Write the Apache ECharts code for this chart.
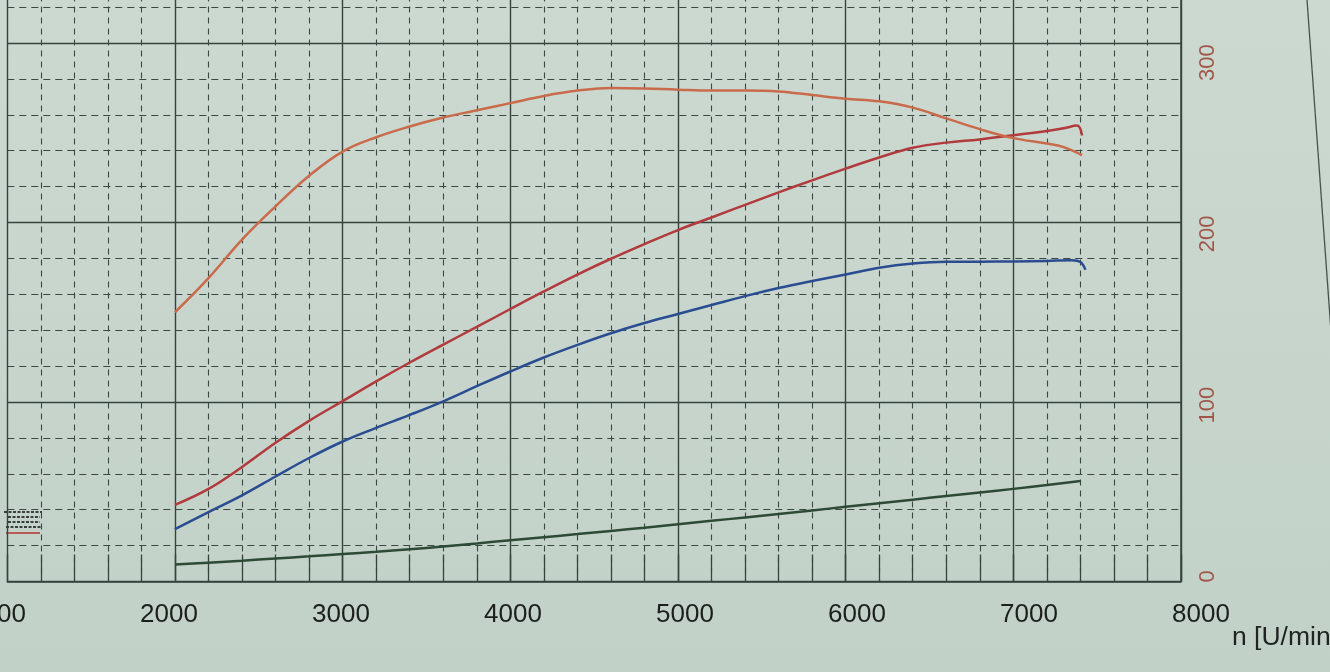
<!DOCTYPE html>
<html>
<head>
<meta charset="utf-8">
<script src="https://cdn.jsdelivr.net/npm/echarts@6/dist/echarts.min.js"></script>
<style>
html,body{margin:0;padding:0;background:#c7d5cd;overflow:hidden}
#c{width:1330px;height:672px}
</style>
</head>
<body>
<div id="c"></div>
<script>
// engine speed samples (rpm)
const rpm = [2000,2200,2400,2600,2800,3000,3200,3400,3600,3800,4000,4200,4400,4600,4800,5000,5200,5400,5600,5800,6000,6200,6400,6600,6800,7000,7200];

// orange curve (upper)
const orangeVals = [150,169,190.5,209,226,239.5,247.5,253.5,258.5,262.5,266.5,270.5,273.5,275,274.7,274,273.5,273.5,273,271,269,267.5,264,258,252,247,244];
const orangeTailRpm = [7300,7410];
const orangeTailVals = [242,237.5];

// red curve
const redVals = [42.7,51.6,63.8,77.3,89.5,100.5,111.5,122,132,141.8,151.8,161.6,171,179.8,188,195.8,202.8,209.8,216.8,223.5,230,236.2,241.6,244.5,246.3,248.6,251];
const redTailRpm = [7300,7380,7410];
const redTailVals = [252.5,254,248.5];

// blue curve
const blueVals = [29.2,38.7,48,58.5,68.8,78,85.6,92.8,100.4,108.8,117,124.8,131.8,138.3,144,149,154,159,163.5,167.4,171,174.8,177.2,178.2,178.2,178.3,178.6];
const blueTailRpm = [7350,7400,7430];
const blueTailVals = [179,178,173.7];

// green curve (lower)
const greenVals = [9.5,10.5,11.6,12.8,14,15.3,16.6,18,19.5,21.2,23,24.7,26.4,28.2,30,31.9,33.8,35.7,37.6,39.6,41.6,43.6,45.6,47.6,49.6,51.6,53.7];
const greenTailRpm = [7400];
const greenTailVals = [56];

// axis ranges
const xMin = 1000, xMax = 8000, xStep = 1000;
const yMin = 0, yMax = 400, yStep = 100;
const axisName = 'n [U/min]';

function pts(xs, ys) { return xs.map((x, i) => [x, ys[i]]); }

const gridSolid = '#36433d';
const gridDash = '#3b4842';
const font = 'Liberation Sans, Arial, sans-serif';

const chart = echarts.init(document.getElementById('c'), null, {renderer: 'canvas'});

function lineSeries(xs, ys, color) {
  return {
    type: 'line', xAxisIndex: 0, yAxisIndex: 0,
    data: pts(xs, ys),
    showSymbol: false, symbol: 'none', smooth: 0.4,
    lineStyle: {color: color, width: 2.5},
    z: 5, silent: true, animation: false
  };
}

chart.setOption({
  animation: false,
  backgroundColor: {
    type: 'linear', x: 0, y: 0, x2: 0, y2: 1,
    colorStops: [{offset: 0, color: '#ccd9d1'}, {offset: 1, color: '#c2d1c8'}]
  },
  title: {
    text: axisName, left: 1232, top: 624, padding: 0,
    textStyle: {fontFamily: font, fontSize: 26.5, fontWeight: 'normal', color: '#1f2321'}
  },
  grid: [
    {left: 7.3, right: 149, top: -136.5, bottom: 90.5, containLabel: false, outerBoundsMode: 'none'},
    {left: -3, right: 129, top: -108.7, bottom: 95.5, containLabel: false, outerBoundsMode: 'none'}
  ],
  xAxis: [
    {
      type: 'value', gridIndex: 0, min: xMin, max: xMax, interval: xStep,
      axisLine: {show: true, onZero: false, lineStyle: {color: gridSolid, width: 1.5}},
      axisTick: {show: true, inside: true, length: 27, lineStyle: {color: gridSolid, width: 1.4}},
      minorTick: {show: true, splitNumber: 5, length: 27, lineStyle: {color: gridSolid, width: 1.3}},
      axisLabel: {show: false},
      splitLine: {show: true, lineStyle: {color: gridSolid, width: 1.4}},
      minorSplitLine: {show: true, lineStyle: {color: gridDash, width: 1.1, type: [6, 5]}}
    },
    {
      type: 'value', gridIndex: 1, min: xMin, max: xMax, interval: xStep,
      axisLine: {show: false}, axisTick: {show: false}, splitLine: {show: false},
      axisLabel: {show: true, margin: 25, color: '#1c1f1d', fontSize: 26, fontFamily: font,
        formatter: function (v) { return String(v); }}
    }
  ],
  yAxis: [
    {
      type: 'value', gridIndex: 0, position: 'right', min: yMin, max: yMax, interval: yStep,
      axisLine: {show: true, lineStyle: {color: gridSolid, width: 1.5}},
      axisTick: {show: false},
      axisLabel: {show: false},
      splitLine: {show: true, lineStyle: {color: gridSolid, width: 1.4}},
      minorTick: {show: false, splitNumber: 5},
      minorSplitLine: {show: true, lineStyle: {color: gridDash, width: 1.1, type: [7, 5]}}
    },
    {
      type: 'value', gridIndex: 1, position: 'right', min: yMin, max: yMax, interval: yStep,
      axisLine: {show: false}, axisTick: {show: false}, splitLine: {show: false},
      axisLabel: {show: true, rotate: 90, margin: -4, color: '#a0574a', fontSize: 22, fontFamily: font,
        formatter: function (v) { return String(v); }}
    }
  ],
  graphic: [
    {type: 'line', shape: {x1: 1307, y1: 0, x2: 1332, y2: 345}, style: {stroke: '#46534c', lineWidth: 1.3}, silent: true},
    {type: 'line', shape: {x1: 4, y1: 512, x2: 42, y2: 512}, style: {stroke: '#3a3f3c', lineWidth: 2, lineDash: [3, 1.5]}, silent: true},
    {type: 'line', shape: {x1: 8, y1: 517, x2: 40, y2: 517}, style: {stroke: '#3a3f3c', lineWidth: 2, lineDash: [3, 1.5]}, silent: true},
    {type: 'line', shape: {x1: 8, y1: 522, x2: 40, y2: 522}, style: {stroke: '#3a3f3c', lineWidth: 2, lineDash: [3, 1.5]}, silent: true},
    {type: 'line', shape: {x1: 6, y1: 527, x2: 42, y2: 527}, style: {stroke: '#3a3f3c', lineWidth: 2, lineDash: [3, 1.5]}, silent: true},
    {type: 'line', shape: {x1: 6, y1: 533, x2: 40, y2: 533}, style: {stroke: '#b85a55', lineWidth: 1.8}, silent: true}
  ],
  series: [
    lineSeries(rpm.concat(greenTailRpm), greenVals.concat(greenTailVals), '#2d4a36'),
    lineSeries(rpm.concat(blueTailRpm), blueVals.concat(blueTailVals), '#2a4d92'),
    lineSeries(rpm.concat(redTailRpm), redVals.concat(redTailVals), '#b13a3d'),
    lineSeries(rpm.concat(orangeTailRpm), orangeVals.concat(orangeTailVals), '#c96b4b')
  ]
});
</script>
</body>
</html>
